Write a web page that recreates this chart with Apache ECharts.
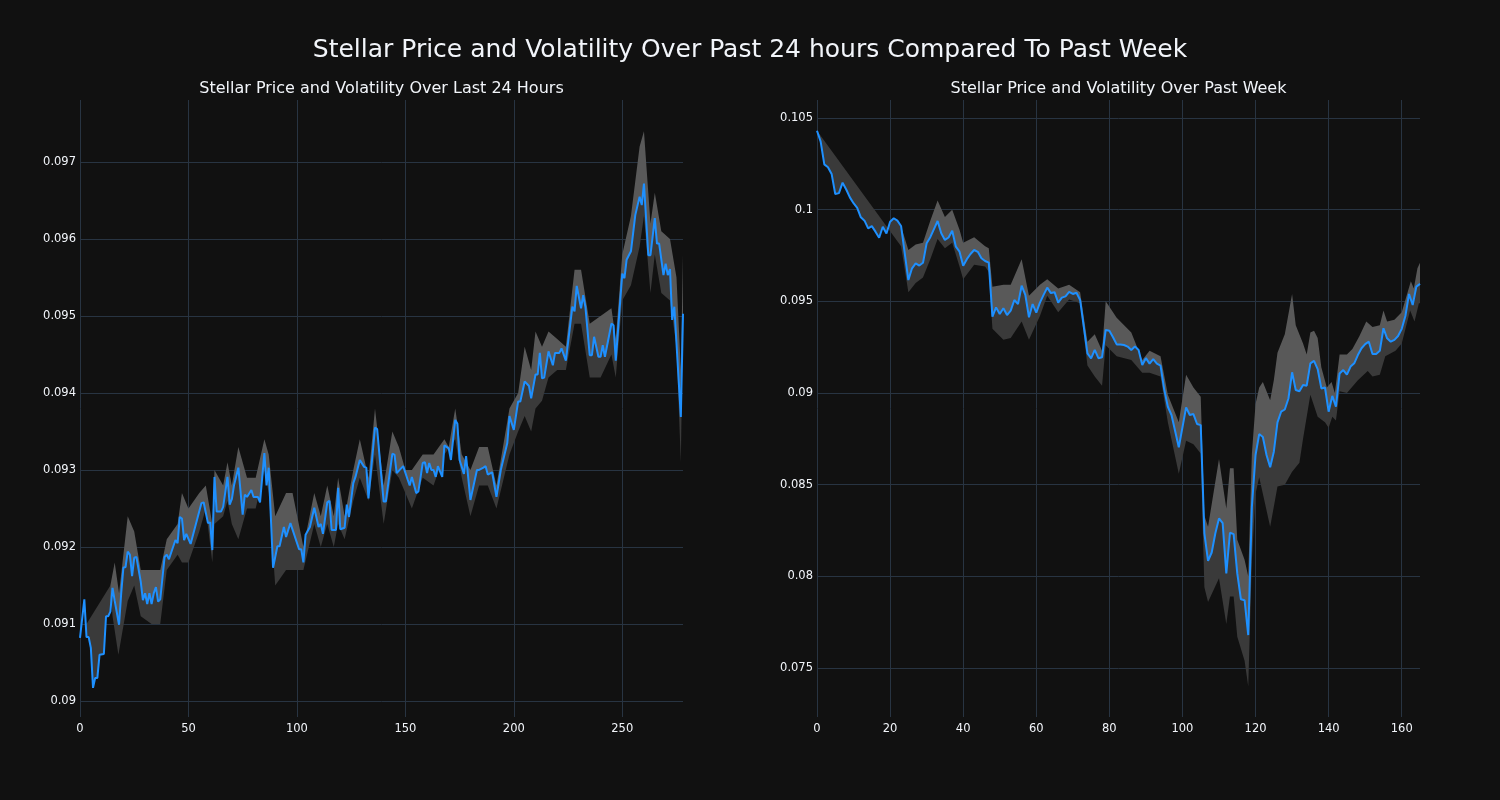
<!DOCTYPE html>
<html><head><meta charset="utf-8">
<script src="https://cdn.jsdelivr.net/npm/echarts@6/dist/echarts.min.js"></script>
<style>html,body{margin:0;padding:0;background:#111111;}#c{width:1500px;height:800px;}</style>
</head><body><div id="c"></div>
<script>
// ---- Last 24 hours ----
const dayPriceX = [0,2,3,4,5,6,7,8,9,11,12,13,14,15,16,18,19,20,21,22,23,24,25,26,28,29,30,31,32,33,34,35,36,37,39,40,41,44,45,46,47,48,49,51,56,57,59,60,61,62,63,65,66,68,69,70,71,73,75,76,77,79,80,82,83,85,86,87,89,91,92,94,95,97,101,102,103,104,106,108,110,111,112,114,115,116,118,119,120,122,123,124,126,127,129,131,132,133,136,137,139,140,141,144,145,146,149,151,152,153,155,156,158,159,160,161,162,163,164,165,167,168,170,171,173,174,175,177,178,180,183,184,186,187,188,190,192,194,197,198,200,202,203,205,207,208,210,211,212,213,214,216,218,219,221,222,224,227,228,229,231,232,233,235,236,237,239,240,241,242,245,246,247,250,251,252,254,256,258,259,260,262,263,265,266,267,269,270,271,272,273,274,277,278];
const dayPriceY = [0.09082,0.09132,0.09083,0.09083,0.09069,0.09017,0.0903,0.0903,0.0906,0.09061,0.0911,0.0911,0.09116,0.09147,0.0913,0.09099,0.0914,0.09173,0.09174,0.09194,0.0919,0.09162,0.09186,0.09187,0.09155,0.09131,0.0914,0.09126,0.0914,0.09126,0.0914,0.09148,0.09129,0.09132,0.09187,0.0919,0.09184,0.09209,0.09205,0.09239,0.09237,0.09209,0.09217,0.09204,0.09257,0.09258,0.09231,0.09232,0.09196,0.09291,0.09246,0.09246,0.09252,0.09291,0.09255,0.09262,0.0928,0.09303,0.09242,0.09268,0.09265,0.09274,0.09265,0.09265,0.09258,0.09322,0.0928,0.09303,0.09173,0.09201,0.09201,0.09226,0.09213,0.09231,0.09197,0.09197,0.0918,0.09216,0.09226,0.09251,0.09226,0.0923,0.09217,0.09258,0.0926,0.09222,0.09222,0.09277,0.09223,0.09225,0.09255,0.09239,0.09283,0.09291,0.09313,0.09304,0.09303,0.09263,0.09355,0.09353,0.09289,0.09259,0.09259,0.09321,0.0932,0.09296,0.09305,0.09288,0.0928,0.09291,0.0927,0.09272,0.09309,0.0931,0.09296,0.09309,0.093,0.093,0.09291,0.09305,0.09291,0.09332,0.09328,0.09313,0.09365,0.0936,0.09313,0.09295,0.09318,0.09261,0.093,0.093,0.09303,0.09305,0.09294,0.09297,0.09265,0.093,0.09335,0.0937,0.09352,0.09389,0.09389,0.09415,0.09409,0.09393,0.09424,0.09424,0.09452,0.09419,0.0942,0.09454,0.09436,0.09452,0.09452,0.09458,0.09442,0.09512,0.09506,0.09539,0.0951,0.09527,0.09512,0.09449,0.09449,0.09473,0.09447,0.09447,0.09462,0.09447,0.0949,0.09488,0.09442,0.09555,0.09549,0.09573,0.09584,0.09631,0.09655,0.09644,0.09672,0.09579,0.09579,0.09627,0.09594,0.09594,0.09553,0.09568,0.09553,0.09561,0.09495,0.09512,0.09369,0.09503];
const dayUpperX = [14,16,18,22,25,28,33,37,40,45,47,50,55,58,61,62,66,68,70,73,77,81,85,87,90,95,98,103,108,111,114,117,119,122,126,129,133,136,140,144,147,150,153,158,163,168,170,173,176,180,184,188,192,198,202,205,208,210,213,216,220,224,228,231,235,240,245,247,250,254,258,260,263,265,268,272,275,277,278];
const dayUpperY = [0.0915,0.0918,0.0914,0.0924,0.0922,0.0917,0.0917,0.0917,0.0921,0.0923,0.0927,0.0925,0.0927,0.0928,0.0923,0.0930,0.0928,0.0931,0.0928,0.0933,0.0929,0.0929,0.0934,0.0932,0.0924,0.0927,0.0927,0.0920,0.0927,0.0924,0.0928,0.0924,0.0929,0.0924,0.0930,0.0934,0.0929,0.0938,0.0928,0.0935,0.0933,0.0930,0.0930,0.0932,0.0932,0.0934,0.0933,0.0938,0.0932,0.0930,0.0933,0.0933,0.0928,0.0938,0.0940,0.0946,0.0943,0.0948,0.0946,0.0948,0.0947,0.0946,0.0956,0.0956,0.0949,0.0950,0.0951,0.0947,0.0958,0.0963,0.0972,0.0974,0.0962,0.0966,0.0961,0.0960,0.0955,0.0943,0.0958];
const dayLowerX = [3,14,15,17.7,22,25,28,33,37,40,45,47,50,55,58,61,62,66,68,70,73,77,81,85,87,90,95,98,103,108,111,114,117,119,122,126,129,133,136,140,144,147,150,153,158,163,168,173,176,180,184,188,192,198,202,205,208,210,213,216,220,224,228,231,235,240,245,247,250,254,258,260,263,265,268,272,275,277,278];
const dayLowerY = [0.0910,0.0915,0.0911,0.0906,0.0913,0.0915,0.0911,0.0910,0.0910,0.0917,0.0919,0.0918,0.0918,0.0922,0.0925,0.0918,0.0923,0.0924,0.0926,0.0923,0.0921,0.0925,0.0925,0.0930,0.0927,0.0915,0.0917,0.0917,0.0917,0.0923,0.0920,0.0923,0.0920,0.0923,0.0921,0.0926,0.0929,0.0926,0.0932,0.0923,0.0930,0.0929,0.0927,0.0925,0.0929,0.0928,0.0932,0.0934,0.0929,0.0924,0.0928,0.0928,0.0925,0.0932,0.0935,0.0937,0.0935,0.0938,0.0939,0.0942,0.0943,0.0943,0.0949,0.0949,0.0942,0.0942,0.0945,0.0942,0.0952,0.0954,0.0959,0.0963,0.0953,0.0958,0.0953,0.0952,0.0946,0.0931,0.0950];

// ---- Past week ----
const weekPriceX = [0,1,2,3,4,5,6,7,8,9,10,11,12,13,14,15,16,17,18,19,20,21,22,23,25,26,27,28,29,30,31,32,33,34,35,36,37,38,39,40,41,42,43,44,45,46,47,48,49,50,51,52,53,54,55,56,57,58,59,60,61,62,63,64,65,66,67,68,69,70,71,72,74,75,76,77,78,79,80,81,82,83,84,85,86,87,88,89,90,91,92,93,94,95,96,97,99,101,102,103,104,105,106,107,108,109,110,111,112,113,114,115,116,117,118,119,120,121,122,123,124,125,126,127,128,129,130,131,132,133,134,135,136,137,138,139,140,141,142,143,144,145,146,147,148,149,150,151,152,153,154,155,156,157,158,159,160,161,162,163,164,165];
const weekPriceY = [0.1043,0.10371,0.10247,0.10231,0.10195,0.10085,0.1009,0.10147,0.1011,0.10067,0.10035,0.1001,0.09958,0.0994,0.09898,0.0991,0.0988,0.09847,0.09907,0.0987,0.09934,0.09953,0.0994,0.09911,0.09616,0.0968,0.09707,0.09695,0.0971,0.09817,0.0985,0.09894,0.09938,0.09871,0.09835,0.09848,0.09885,0.09798,0.09771,0.09694,0.0973,0.09758,0.0978,0.0977,0.09735,0.0972,0.09711,0.09416,0.09467,0.09431,0.09462,0.09425,0.09449,0.09507,0.09485,0.09585,0.09535,0.09413,0.09485,0.09438,0.09493,0.09535,0.09575,0.09545,0.0955,0.09493,0.0952,0.09527,0.09551,0.0954,0.09547,0.09507,0.09216,0.09189,0.09235,0.0919,0.09195,0.09344,0.0934,0.09304,0.09265,0.09265,0.09262,0.09253,0.09235,0.09253,0.09235,0.09153,0.0919,0.0916,0.09185,0.0916,0.09149,0.0902,0.08925,0.0888,0.08704,0.08922,0.0888,0.08885,0.08831,0.08825,0.08235,0.08085,0.0813,0.08235,0.08316,0.0829,0.08016,0.08238,0.0823,0.08016,0.07875,0.0787,0.0768,0.0838,0.08662,0.08776,0.0876,0.08662,0.08595,0.0868,0.0884,0.08898,0.0891,0.0897,0.09113,0.09016,0.0901,0.09044,0.0904,0.09162,0.09175,0.0913,0.09025,0.0903,0.08898,0.08984,0.08925,0.09107,0.09125,0.091,0.09144,0.09162,0.09207,0.09244,0.09267,0.0928,0.09213,0.09213,0.0923,0.09353,0.09298,0.0928,0.0929,0.09311,0.0935,0.0942,0.0954,0.0948,0.0958,0.09595];
const weekUpperX = [23,25,27,29,31,33,35,37,39,40,43,46,47,48,51,53,56,58,61,63,66,69,72,74,76,78,79,82,86,89,91,94,96,99,101,103,105,106,107,110,112,113,114,115,117,118,119,120,121,122,124,125,126,128,130,131,133,134,135,136,137,138,139.5,140.8,141.7,143,145,146.5,148.4,150.3,152,154,155,156,158,160,162.5,163.3,164.3,165];
const weekUpperY = [0.0991,0.0978,0.0981,0.0982,0.0994,0.1005,0.0996,0.1000,0.0989,0.0982,0.0985,0.0980,0.0979,0.0958,0.0959,0.0959,0.0973,0.0953,0.0959,0.0962,0.0957,0.0959,0.0955,0.0928,0.0932,0.0923,0.0950,0.0941,0.0933,0.0918,0.0923,0.0920,0.0899,0.0884,0.0910,0.0903,0.0898,0.0833,0.0827,0.0864,0.0837,0.0859,0.0859,0.0820,0.0809,0.0800,0.0867,0.0894,0.0903,0.0906,0.0896,0.0907,0.0922,0.0932,0.0954,0.0937,0.0927,0.0921,0.0933,0.0934,0.0930,0.0914,0.0903,0.0906,0.0900,0.0921,0.0921,0.0924,0.0931,0.0939,0.0936,0.0937,0.0945,0.0939,0.0940,0.0944,0.0961,0.0957,0.0968,0.0971];
const weekLowerX = [0,23,25,27,29,31,33,35,37,39,40,43,46,47,48,51,53,56,58,61,63,66,69,72,74,76,78,79,82,86,89,91,94,96,99,101,103,105,106,107,110,112,113,114,115,117,118,119,120,121,122,124,125,126,128,130,132,133,135,137,139,140,141,142,143,145,148,150.7,152,154,155.5,158.3,160,162.3,163.5,164.7,165];
const weekLowerY = [0.1043,0.0980,0.0955,0.0960,0.0963,0.0973,0.0984,0.0979,0.0982,0.0969,0.0962,0.0970,0.0969,0.0966,0.0935,0.0929,0.0930,0.0939,0.0929,0.0942,0.0953,0.0944,0.0951,0.0949,0.0915,0.0909,0.0904,0.0926,0.0920,0.0918,0.0911,0.0911,0.0909,0.0884,0.0856,0.0874,0.0872,0.0867,0.0794,0.0786,0.0799,0.0774,0.0789,0.0789,0.0767,0.0754,0.0740,0.0809,0.0845,0.0854,0.0845,0.0827,0.0838,0.0849,0.0850,0.0857,0.0862,0.0875,0.0899,0.0887,0.0884,0.0881,0.0887,0.0885,0.0901,0.0900,0.0907,0.0912,0.0909,0.0910,0.0920,0.0923,0.0927,0.0945,0.0939,0.0949,0.0949];

const dayTicksY = [0.09,0.091,0.092,0.093,0.094,0.095,0.096,0.097];
const weekTicksY = [0.075,0.08,0.085,0.09,0.095,0.1,0.105];

const GRID = '#283442', TXT = '#f2f5fa', FONT = 'DejaVu Sans';
const LIGHT = '#595959', DARK = '#3a3a3a', LINE = '#1e90ff';

function zip(xs, ys) { return xs.map((x, i) => [x, ys[i]]); }
function polyPoints(api, bx, by, px, py) {
  const lo = bx[0], hi = bx[bx.length - 1];
  const band = zip(bx, by);
  const price = zip(px, py).filter(p => p[0] >= lo && p[0] <= hi).reverse();
  return band.concat(price).map(p => api.coord(p));
}
function bandSeries(idx, px, py, ux, uy, lx, ly) {
  return {
    type: 'custom', xAxisIndex: idx, yAxisIndex: idx, silent: true, clip: true, z: 1,
    data: [[px[0], py[0]]],
    renderItem: function (params, api) {
      return {
        type: 'group',
        children: [
          { type: 'polygon', shape: { points: polyPoints(api, lx, ly, px, py) }, style: { fill: DARK } },
          { type: 'polygon', shape: { points: polyPoints(api, ux, uy, px, py) }, style: { fill: LIGHT } }
        ]
      };
    }
  };
}
function fmt(v) { return String(parseFloat(Number(v).toFixed(4))); }
function yAxis(idx, min, max, step) {
  return {
    type: 'value', gridIndex: idx, min: min, max: max, minInterval: step, maxInterval: step,
    axisLine: { show: false }, axisTick: { show: false },
    axisLabel: { color: TXT, fontFamily: FONT, fontSize: 11.5, margin: 4, showMinLabel: false, showMaxLabel: false, formatter: fmt },
    splitLine: { show: true, showMinLine: false, showMaxLine: false, lineStyle: { color: GRID, width: 1 } }
  };
}
function xAxis(idx, max, step) {
  return {
    type: 'value', gridIndex: idx, min: 0, max: max, interval: step,
    axisLine: { show: false }, axisTick: { show: false },
    axisLabel: { color: TXT, fontFamily: FONT, fontSize: 11.5, margin: 6, showMaxLabel: false },
    splitLine: { show: true, showMaxLine: false, lineStyle: { color: GRID, width: 1 } }
  };
}

const chart = echarts.init(document.getElementById('c'), null, { renderer: 'canvas' });
chart.setOption({
  backgroundColor: '#111111',
  animation: false,
  graphic: [
    { type: 'text', x: 750, y: 50, style: { text: 'Stellar Price and Volatility Over Past 24 hours Compared To Past Week', fill: TXT, font: '25px "DejaVu Sans"', align: 'center', verticalAlign: 'middle' } },
    { type: 'text', x: 381.5, y: 89, style: { text: 'Stellar Price and Volatility Over Last 24 Hours', fill: TXT, font: '16px "DejaVu Sans"', align: 'center', verticalAlign: 'middle' } },
    { type: 'text', x: 1118.5, y: 89, style: { text: 'Stellar Price and Volatility Over Past Week', fill: TXT, font: '16px "DejaVu Sans"', align: 'center', verticalAlign: 'middle' } }
  ],
  grid: [
    { left: 80, right: 817, top: 100, bottom: 83 },
    { left: 817, right: 80, top: 100, bottom: 83 }
  ],
  xAxis: [xAxis(0, 278, 50), xAxis(1, 165, 20)],
  yAxis: [yAxis(0, 0.089792, 0.097805, 0.001), yAxis(1, 0.07233, 0.10598, 0.005)],
  series: [
    bandSeries(0, dayPriceX, dayPriceY, dayUpperX, dayUpperY, dayLowerX, dayLowerY),
    bandSeries(1, weekPriceX, weekPriceY, weekUpperX, weekUpperY, weekLowerX, weekLowerY),
    { type: 'line', xAxisIndex: 0, yAxisIndex: 0, data: zip(dayPriceX, dayPriceY), showSymbol: false, symbol: 'none', z: 3,
      lineStyle: { color: LINE, width: 2 } },
    { type: 'line', xAxisIndex: 1, yAxisIndex: 1, data: zip(weekPriceX, weekPriceY), showSymbol: false, symbol: 'none', z: 3,
      lineStyle: { color: LINE, width: 2 } }
  ]
});
</script>
</body></html>
